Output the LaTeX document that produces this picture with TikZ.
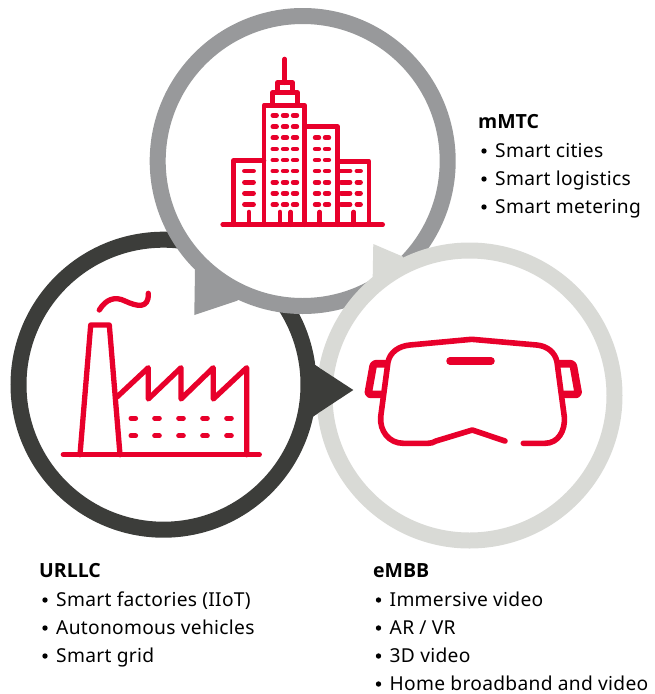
\documentclass[tikz,border=0pt]{standalone}
\usepackage{fontspec}
\setmainfont[LetterSpace=1.5]{Noto Sans}
\newfontfamily\headfont{Open Sans}
\definecolor{iconred}{HTML}{E8002B}
\definecolor{ringdark}{HTML}{3C3D3A}
\definecolor{ringgray}{HTML}{98999B}
\definecolor{ringlight}{HTML}{D9DAD6}
\tikzset{
  icon/.style={draw=iconred,line width=4.6pt,line join=round,line cap=round},
  iconf/.style={icon,line width=5.3pt},
  icong/.style={icon,line width=7.6pt,rounded corners=2.5pt},
  win/.style={draw=iconred,line width=4.8pt,line cap=round},
  ring/.style={line width=16pt,fill=white},
  head/.style={anchor=base west,font=\fontsize{19.5}{21}\selectfont\headfont\bfseries,text=black,inner sep=0pt},
  item/.style={anchor=base west,font=\fontsize{19.2}{21}\selectfont,text=black,inner sep=0pt},
  dot/.style={circle,fill=black,inner sep=0pt,minimum size=5.4pt}
}
\newcommand{\bul}[4]{\node[dot] (d#1) at (#2,#4) {}; \node[item] (t#1) at (#2+11,#4+6.9) {#3};}
\begin{document}
\begin{tikzpicture}[x=1pt,y=-1pt]
\useasboundingbox (0,0) rectangle (654,694);
% dark circle
\fill[ringdark] (315,365) -- (353.3,390) -- (312.7,416.7) -- cycle;
\draw[ringdark,ring] (163.5,384.7) circle[radius=145];
% gray circle
\fill[ringgray] (195,270) -- (194.3,315) -- (237.3,300.7) -- (260,270) -- cycle;
\draw[ringgray,ring] (302.7,161) circle[radius=145];
% light circle
\fill[ringlight] (373.3,244) -- (403,256.7) -- (400,290) -- (372.7,276.7) -- cycle;
\draw[ringlight,ring] (469.5,395.5) circle[radius=145];
% dark pointer on top
\fill[ringdark] (315,365) -- (353.3,390) -- (312.7,416.7) -- cycle;
% building
\draw[icon] (222.7,224.7) -- (382.7,224.7);
\draw[icon] (284.7,59) -- (284.7,82.7);
\draw[icon] (277.3,91.7) -- (277.3,82.7) -- (292.7,82.7) -- (292.7,91.7);
\draw[icon] (272.7,105.3) -- (272.7,92.3) -- (297.3,92.3) -- (297.3,105.3);
\draw[icon] (264,224.7) -- (264,105.3) -- (304.7,105.3) -- (304.7,224.7);
\draw[icon] (304.7,126.7) -- (337.7,126.7) -- (337.7,224.7);
\draw[icon] (337.7,161.3) -- (369,161.3) -- (369,224.7);
\draw[icon] (264,160.7) -- (233.3,160.7) -- (233.3,224.7);
\foreach \y in {115.3,126.7,137.7,149,160,171,182.3,193.3,204.7}
  \foreach \x in {274.7,285,295} \draw[win] (\x-1.8,\y) -- (\x+1.8,\y);
\foreach \y in {137.7,149,160,171,182.3,193.3,204.7}
  \foreach \x in {317,327} \draw[win] (\x-1.8,\y) -- (\x+1.8,\y);
\foreach \y in {171,182.3,193.3,204.7} {
  \draw[win] (244.5,\y) -- (253.5,\y);
  \draw[win] (341,\y) -- (350,\y);
  \draw[win] (357,\y) -- (360.5,\y);
}
\foreach \x in {249,280,290.7,319.7,353.7} \draw[icon] (\x,212) -- (\x,224.7);
% factory
\draw[iconf] (63.3,454.7) -- (259.3,454.7);
\draw[iconf] (80,454.7) -- (90.7,325) -- (109.3,325) -- (120,454.7);
\draw[iconf] (117.3,396.7) -- (148.3,367.7) -- (148.3,399) -- (181,367.7) -- (181,399) -- (213.3,367.7) -- (213.3,399) -- (246.7,367.7) -- (246.7,454.7);
\foreach \y in {418.3,435.7}
  \foreach \x in {133.3,157,181,205,229} \draw[win] (\x-2.4,\y) -- (\x+2.4,\y);
\draw[iconf] (99.3,310) .. controls (106,299) and (115,296) .. (125,301) .. controls (136,306) and (149,310) .. (148.3,293.3);
% goggles
\draw[icon,line width=5.6pt] (505,441) -- (472.3,430) -- (436,441) .. controls (433,442.7) and (431,443.3) .. (428,443.3) -- (403.3,443.3)
  .. controls (389,443.3) and (379.5,431) .. (380.7,416.7) -- (388,362)
  .. controls (390,352) and (399,346) .. (410,345) -- (471.7,339.3) -- (536.7,345)
  .. controls (547,346) and (555,352) .. (557,362) -- (564.3,416.7)
  .. controls (565.5,431) and (558,443.3) .. (545,443.3) -- (523.3,443.3);
\draw[icong] (386,363.7) -- (373.5,363.7) -- (368,394.4) -- (381,394.4);
\draw[icong] (559,363.7) -- (573,363.7) -- (578.5,394.4) -- (564,394.4);
\draw[iconred,line width=7.5pt,line cap=round] (450,361) -- (491,361);
% text
\node[head] (h1) at (478,128.5) {mMTC};
\bul{a}{484}{Smart cities}{151}
\bul{b}{484}{Smart logistics}{179}
\bul{c}{484}{Smart metering}{207}
\node[head] (h2) at (39,577) {URLLC};
\bul{e}{45}{Smart factories (IIoT)}{600}
\bul{f}{45}{Autonomous vehicles}{628}
\bul{g}{45}{Smart grid}{656}
\node[head] (h3) at (373,577) {eMBB};
\bul{i}{378.5}{Immersive video}{600}
\bul{j}{378.5}{AR / VR}{628}
\bul{k}{378.5}{3D video}{656}
\bul{l}{378.5}{Home broadband and video}{684}
\end{tikzpicture}
\end{document}
